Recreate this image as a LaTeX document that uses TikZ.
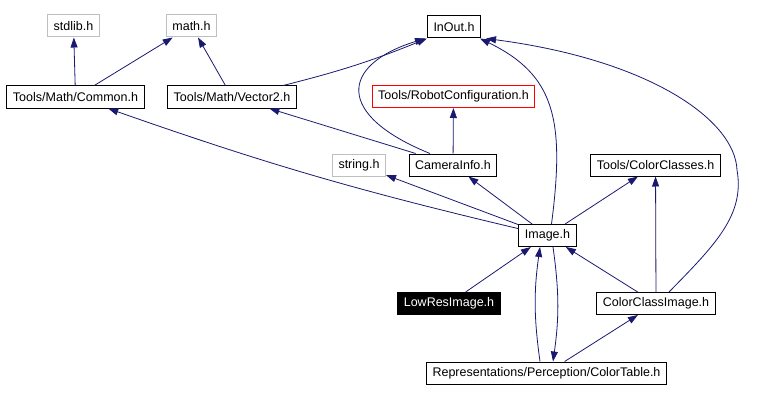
\documentclass[tikz,border=0pt]{standalone}
\usepackage{fontspec}
\setmainfont{Liberation Sans}
\usetikzlibrary{arrows.meta}
\definecolor{edgeblue}{HTML}{191970}
\definecolor{extgray}{HTML}{BFBFBF}
\definecolor{confred}{HTML}{FF0000}

\begin{document}
\begin{tikzpicture}[x=1pt, y=-1pt, line width=0.8pt,
    font=\fontsize{12.5}{14}\selectfont,
    file/.style={draw, line width=1pt, inner xsep=6pt, inner ysep=0pt, minimum height=22pt},
    ext/.style={file, draw=extgray},
    dep/.style={draw=edgeblue, -{Triangle[length=10pt, width=7pt]}}]
  \useasboundingbox (0,0) rectangle (775,401);
  \path node (stdlib)      at (73.5,26)    [ext] {stdlib.h}
        node (math)        at (191.5,26)   [ext] {math.h}
        node (InOut)       at (454,27)     [file] {InOut.h}
        node (Common)      at (75.5,97)    [file] {Tools/Math/Common.h}
        node (Vector2)     at (232,97)     [file] {Tools/Math/Vector2.h}
        node (RobotConf)   at (453.5,96.5) [ext, draw=confred] {Tools/RobotConfiguration.h}
        node (string)      at (359,165)    [ext] {string.h}
        node (CamInfo)     at (453,165)    [file] {CameraInfo.h}
        node (ColClasses)  at (655.5,165)  [file] {Tools/ColorClasses.h}
        node (Image)       at (547.5,235.5) [file] {Image.h}
        node (LowRes)      at (449,303.5)  [file, fill=black, text=white] {LowResImage.h}
        node (ColClassImg) at (656,303.5)  [file] {ColorClassImage.h}
        node (ColTable)    at (546.5,373)  [file] {Representations/Perception/ColorTable.h};
  % includes of the math headers
  \draw[dep] (Common) -- (stdlib);
  \draw[dep] (Common) -- (math);
  \draw[dep] (Vector2) -- (math);
  \draw[dep] (Vector2) to [bend right=4] (InOut.south west);
  % camera info
  \draw[dep] (CamInfo) -- (Vector2);
  \draw[dep] (CamInfo) -- (RobotConf);
  \draw[dep] ([xshift=-23pt]CamInfo.north) .. controls (335,115) and (340,65) .. ([xshift=-2pt]InOut.south west);
  % image
  \draw[dep] (Image) to [bend left=3] (Common);
  \draw[dep] (Image) -- (string);
  \draw[dep] (Image) -- (CamInfo);
  \draw[dep] (Image) -- (ColClasses);
  \draw[dep] ([xshift=4pt]Image.north) .. controls (565,120) and (555,75) .. ([xshift=-1pt]InOut.south east);
  \draw[dep] ([xshift=5.5pt]Image.south) to [bend left=8] ([xshift=6.5pt]ColTable.north);
  % users of the image
  \draw[dep] (LowRes) -- (Image);
  \draw[dep] (ColClassImg) -- (Image);
  \draw[dep] (ColClassImg) -- (ColClasses);
  \draw[dep] ([xshift=13pt]ColClassImg.north) .. controls (715,245) and (745,215) .. (737,170)
             .. controls (735,120) and (650,60) .. ([xshift=5pt]InOut.south east);
  \draw[dep] ([xshift=-6.5pt]ColTable.north) to [bend left=8] ([xshift=-7.5pt]Image.south);
  \draw[dep] (ColTable) -- (ColClassImg);
\end{tikzpicture}
\end{document}
